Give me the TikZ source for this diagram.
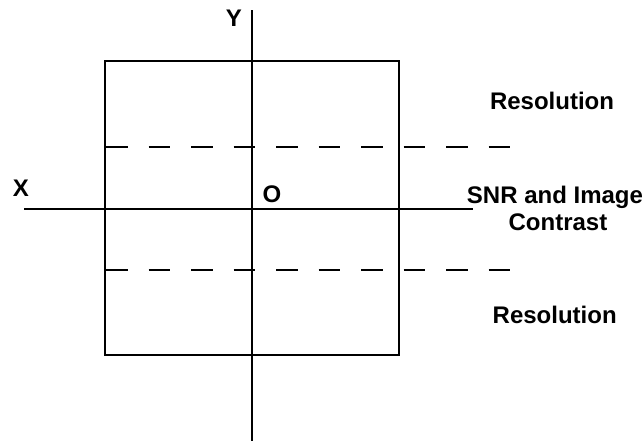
\documentclass[tikz,border=0pt]{standalone}
\usepackage{fontspec}
\setmainfont{Liberation Sans}
\begin{document}
\begin{tikzpicture}[x=1pt,y=-1pt,
  axis/.style={line width=2pt,black},
  boxline/.style={line width=2pt,black},
  dashline/.style={line width=2pt,black,dash pattern=on 21.7pt off 20.8pt},
  lbl/.style={inner sep=0pt,anchor=base,font=\bfseries\fontsize{24}{26.7}\selectfont}]
\useasboundingbox (0,0) rectangle (643,445);
% coordinates
\coordinate (ytop) at (252,10);
\coordinate (ybot) at (252,441);
\coordinate (xl) at (24,208.5);
\coordinate (xr) at (473,208.5);
\coordinate (sqa) at (105,61);
\coordinate (sqb) at (399,355);
\coordinate (d1a) at (106,147);
\coordinate (d1b) at (511,147);
\coordinate (d2a) at (106,270);
\coordinate (d2b) at (511,270);
% square
\draw[boxline] (sqa) rectangle (sqb);
% dashed lines
\draw[dashline] (d1a) -- (d1b);
\draw[dashline] (d2a) -- (d2b);
% axes
\draw[axis] (ytop) -- (ybot);
\draw[axis] (xl) -- (xr);
% labels
\node[lbl] (ylab) at (234,26.7) {Y};
\node[lbl] (xlab) at (21,196) {X};
\node[lbl] (olab) at (272,202.7) {O};
\node[lbl] (res1) at (552,109.3) {Resolution};
\node[lbl] (snr1) at (555,203.3) {SNR and Image};
\node[lbl] (snr2) at (558,230) {Contrast};
\node[lbl] (res2) at (554.7,323.3) {Resolution};
\end{tikzpicture}
\end{document}
